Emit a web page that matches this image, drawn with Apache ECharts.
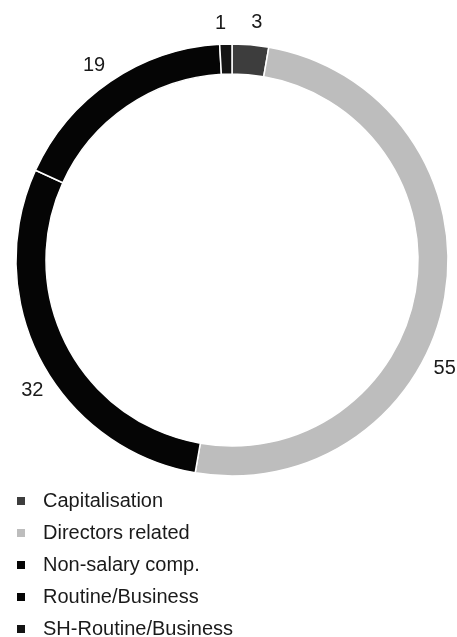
<!DOCTYPE html>
<html>
<head>
<meta charset="utf-8">
<script src="https://cdn.jsdelivr.net/npm/echarts@6/dist/echarts.min.js"></script>
<style>
  html, body { margin: 0; padding: 0; background: #ffffff; }
  #chart { width: 457px; height: 637px; }
</style>
</head>
<body>
<div id="chart"></div>
<script>
// Resolution categories and the number of items in each
const categories = ['Capitalisation', 'Directors related', 'Non-salary comp.', 'Routine/Business', 'SH-Routine/Business'];
const counts = [3, 55, 32, 19, 1];
const colors = ['#3d3d3d', '#bdbdbd', '#050505', '#050505', '#141414'];
// Small per-label nudges [dx, dy] so value labels sit clear of the ring and the page edge
const labelNudge = [[-1, -1], [-32, 68], [21, 20], [7, 1], [1, 0]];

const chart = echarts.init(document.getElementById('chart'), null, { renderer: 'canvas' });

const FONT = '"Liberation Sans", Arial, Helvetica, sans-serif';

chart.setOption({
  animation: false,
  backgroundColor: '#ffffff',
  legend: {
    orient: 'vertical',
    left: 15,
    top: 491,
    height: 160,
    padding: 0,
    itemWidth: 10,
    itemHeight: 10,
    itemGap: 12,
    icon: 'rect',
    selectedMode: false,
    textStyle: { fontFamily: FONT, fontSize: 20, color: '#1a1a1a', lineHeight: 20, padding: [0, 0, 0, 12] },
    data: categories
  },
  series: [{
    type: 'pie',
    center: [232, 260],
    radius: [186, 216],
    startAngle: 90,
    clockwise: true,
    avoidLabelOverlap: false,
    itemStyle: { borderColor: '#ffffff', borderWidth: 1.5 },
    label: {
      show: true,
      position: 'outside',
      formatter: '{c}',
      fontFamily: FONT,
      fontSize: 20,
      color: '#1a1a1a',
      width: 30,
      distanceToLabelLine: 0
    },
    labelLine: { show: false, length: 21, length2: 0 },
    labelLayout: (p) => ({ dx: labelNudge[p.dataIndex][0], dy: labelNudge[p.dataIndex][1] }),
    emphasis: { disabled: true },
    data: categories.map((name, i) => ({ name, value: counts[i], itemStyle: { color: colors[i] } }))
  }]
});
</script>
</body>
</html>
